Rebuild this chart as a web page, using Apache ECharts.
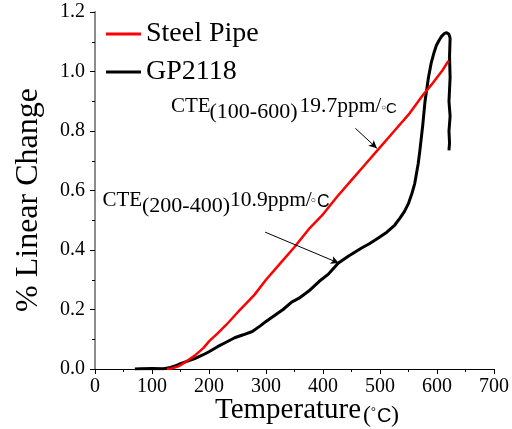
<!DOCTYPE html>
<html>
<head>
<meta charset="utf-8">
<script src="https://cdn.jsdelivr.net/npm/echarts@6/dist/echarts.min.js"></script>
<style>
  html, body { margin: 0; padding: 0; background: #fff; }
  #chart { width: 512px; height: 429px; }
</style>
</head>
<body>
<div id="chart"></div>
<script>
// Dilatometer curves: linear change (%) vs temperature (°C)
const seriesNames = ['Steel Pipe', 'GP2118'];

const steelTemp = [126, 135, 145, 150, 160, 175, 190, 200, 215, 230, 250, 265, 280, 300, 325, 350, 375, 400, 425, 450, 475, 500, 525, 550, 575, 590, 600, 610, 620];
const steelChange = [0.000, 0.002, 0.008, 0.013, 0.025, 0.045, 0.070, 0.093, 0.120, 0.148, 0.190, 0.220, 0.250, 0.300, 0.355, 0.410, 0.470, 0.520, 0.580, 0.635, 0.690, 0.745, 0.800, 0.855, 0.920, 0.955, 0.980, 1.005, 1.036];

const gpTemp = [70, 80, 100, 120, 130, 140, 150, 160, 175, 190, 200, 215, 230, 245, 260, 276, 290, 300, 315, 330, 345, 358, 375, 393, 410, 427, 445, 467, 482, 497, 512, 526, 535, 543, 550, 556, 561, 567, 570, 575, 579, 585, 590, 595, 599, 604, 608, 613, 617, 621, 623, 622, 623, 621, 623, 621, 622, 621];
const gpChange = [0.000, 0.001, 0.002, 0.001, 0.004, 0.010, 0.018, 0.025, 0.035, 0.048, 0.058, 0.075, 0.090, 0.105, 0.115, 0.126, 0.145, 0.160, 0.180, 0.200, 0.225, 0.238, 0.262, 0.294, 0.320, 0.356, 0.380, 0.406, 0.422, 0.440, 0.460, 0.484, 0.507, 0.530, 0.557, 0.590, 0.624, 0.690, 0.735, 0.820, 0.900, 0.980, 1.030, 1.065, 1.088, 1.106, 1.118, 1.128, 1.130, 1.125, 1.112, 1.050, 0.980, 0.900, 0.850, 0.800, 0.760, 0.735];

const xTicks = [0, 100, 200, 300, 400, 500, 600, 700];
const yTicks = [0.0, 0.2, 0.4, 0.6, 0.8, 1.0, 1.2];

const xTitle = ['Temperature', '(', '°', 'C', ')'];
const yTitle = '% Linear Change';

// CTE callouts: subscript range, value, unit
const cteRanges = ['(100-600)', '(200-400)'];
const cteValues = ['19.7ppm/', '10.9ppm/'];
const cteUnit = ['◦', 'C'];

// callout arrows in data units: [tempStart, changeStart, tempEnd, changeEnd]
const arrowSegments = [
  [456.8, 0.809, 494.5, 0.742],
  [298.5, 0.460, 427.7, 0.356]
];

const zip = (xs, ys) => xs.map((x, i) => [x, ys[i]]);

const SERIF = '"Liberation Serif", "Times New Roman", serif';
const SANS = '"Liberation Sans", Arial, sans-serif';
const SYMB = '"DejaVu Sans", sans-serif';

// text placed by its baseline
function txt(str, x, baseline, size, family) {
  return {
    type: 'text',
    x: x,
    y: baseline - 0.34 * size,
    silent: true,
    style: {
      text: str,
      fontSize: size,
      fontFamily: family,
      fill: '#000',
      align: 'left',
      verticalAlign: 'middle',
      textAlign: 'left',
      textVerticalAlign: 'middle'
    }
  };
}

const chart = echarts.init(document.getElementById('chart'), null, { renderer: 'canvas' });

const graphics = [
  // callout 1
  txt('CTE', 171, 114, 21, SERIF),
  txt(cteRanges[0], 209.5, 119.5, 22, SERIF),
  txt(cteValues[0], 299.5, 114, 21.5, SERIF),
  txt(cteUnit[0], 380.5, 113, 12, SYMB),
  txt(cteUnit[1], 386, 114, 15, SANS),
  // callout 2
  txt('CTE', 102.5, 207.7, 21, SERIF),
  txt(cteRanges[1], 142, 213.3, 22, SERIF),
  txt(cteValues[1], 230, 207.7, 21.5, SERIF),
  txt(cteUnit[0], 309.5, 206.5, 13, SYMB),
  txt(cteUnit[1], 317, 207.7, 17.5, SANS),
  // x axis title
  txt(xTitle[0], 215, 420, 29, SERIF),
  txt(xTitle[1], 363, 424, 24, SERIF),
  txt(xTitle[2], 371, 416, 12, SERIF),
  txt(xTitle[3], 377, 423, 20, SANS),
  txt(xTitle[4], 391, 424, 24, SERIF),
  // y axis title (rotated, reads bottom to top)
  {
    type: 'text',
    x: 29,
    y: 200,
    rotation: Math.PI / 2,
    silent: true,
    style: {
      text: yTitle,
      fontSize: 32,
      fontFamily: SERIF,
      fill: '#000',
      align: 'center',
      verticalAlign: 'middle',
      textAlign: 'center',
      textVerticalAlign: 'middle'
    }
  }
];

const axisCommon = {
  type: 'value',
  splitLine: { show: false },
  axisLine: { show: true, onZero: false, lineStyle: { color: '#000', width: 1 } },
  axisTick: { show: true, inside: false, length: 5, lineStyle: { color: '#000', width: 1 } },
  minorTick: { show: true, splitNumber: 2, length: 3, lineStyle: { color: '#000', width: 1 } },
  axisLabel: { color: '#000', fontFamily: SERIF, fontSize: 20 }
};

const option = {
  animation: false,
  backgroundColor: '#fff',
  textStyle: { fontFamily: SERIF },
  grid: { left: 95, right: 16, top: 12, bottom: 60, containLabel: false },
  legend: {
    data: seriesNames.map(n => ({ name: n, icon: 'rect' })),
    orient: 'vertical',
    left: 101,
    top: 15,
    itemWidth: 35,
    itemHeight: 3,
    itemGap: 10,
    padding: 5,
    formatter: '{t|{name}}',
    textStyle: {
      color: '#000',
      fontSize: 28,
      fontFamily: SERIF,
      rich: {
        t: { fontFamily: SERIF, fontSize: 28, color: '#000', lineHeight: 28 }
      }
    }
  },
  xAxis: [
    Object.assign({}, axisCommon, {
      min: xTicks[0],
      max: xTicks[xTicks.length - 1],
      interval: xTicks[1] - xTicks[0],
      axisLabel: Object.assign({}, axisCommon.axisLabel, { margin: 8 })
    }),
    {
      type: 'value', position: 'top',
      min: xTicks[0], max: xTicks[xTicks.length - 1],
      axisLine: { show: true, lineStyle: { color: '#000', width: 1 } },
      axisTick: { show: false }, axisLabel: { show: false }, splitLine: { show: false }
    }
  ],
  yAxis: [
    Object.assign({}, axisCommon, {
      min: yTicks[0],
      max: yTicks[yTicks.length - 1],
      interval: 0.2,
      axisLabel: Object.assign({}, axisCommon.axisLabel, {
        margin: 10,
        formatter: v => v.toFixed(1)
      })
    }),
    {
      type: 'value', position: 'right',
      min: yTicks[0], max: yTicks[yTicks.length - 1],
      axisLine: { show: true, lineStyle: { color: '#8c8c8c', width: 2 } },
      axisTick: { show: false }, axisLabel: { show: false }, splitLine: { show: false }
    }
  ],
  series: [
    {
      name: seriesNames[0],
      type: 'line',
      data: zip(steelTemp, steelChange),
      showSymbol: false,
      symbol: 'none',
      color: '#ff0000',
      lineStyle: { color: '#ff0000', width: 2.5 },
      z: 3
    },
    {
      name: seriesNames[1],
      type: 'line',
      data: zip(gpTemp, gpChange),
      showSymbol: false,
      symbol: 'none',
      color: '#000',
      lineStyle: { color: '#000', width: 3 },
      z: 2,
      markLine: {
        silent: true,
        animation: false,
        symbol: ['none', 'arrow'],
        symbolSize: [6, 8],
        label: { show: false },
        lineStyle: { color: '#000', width: 1, type: 'solid' },
        emphasis: { disabled: true },
        data: arrowSegments.map(s => [
          { coord: [s[0], s[1]] },
          { coord: [s[2], s[3]] }
        ])
      }
    }
  ],
  graphic: graphics
};

chart.setOption(option);
</script>
</body>
</html>
